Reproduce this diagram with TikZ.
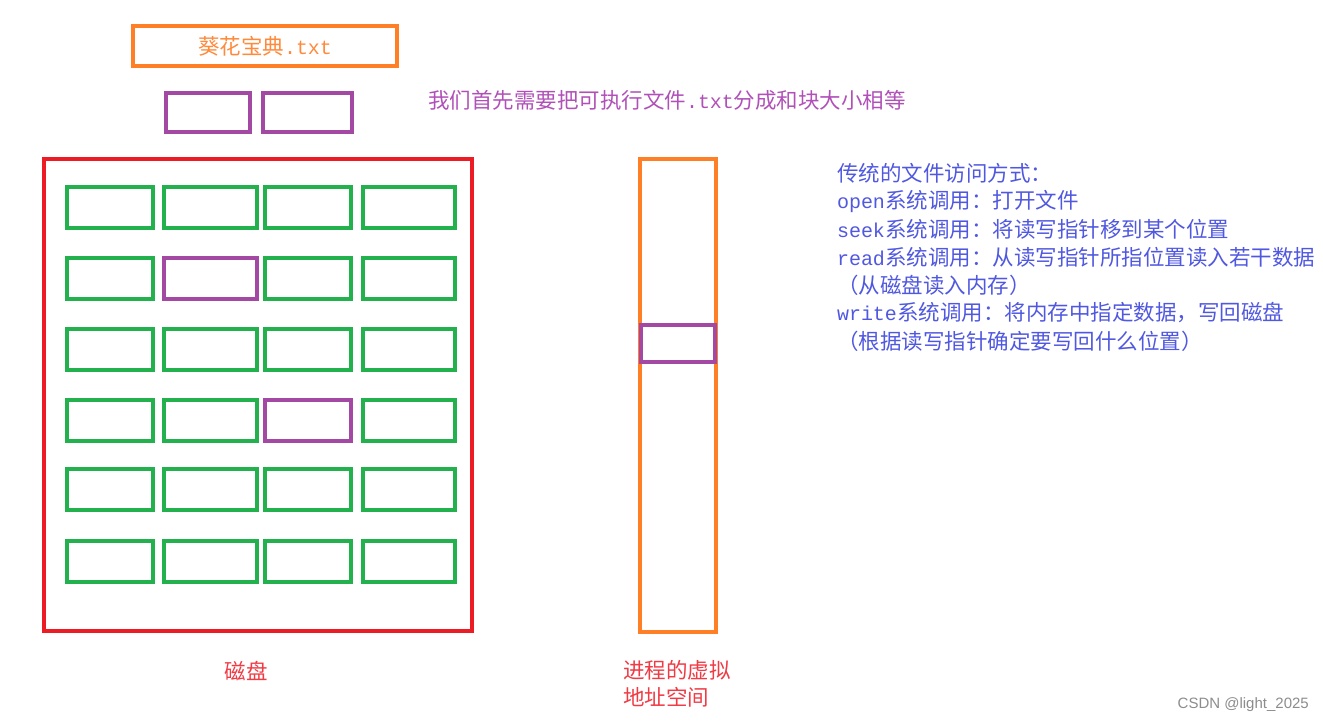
\documentclass[tikz,border=0pt]{standalone}
\usepackage{fontspec}
\setmainfont{Noto Sans CJK SC}
\newfontfamily\lm{Liberation Mono}[Scale=0.93]
\newfontfamily\wm{Liberation Sans}
\definecolor{cOrange}{HTML}{FF7F27}
\definecolor{cPurple}{HTML}{A349A4}
\definecolor{cGreen}{HTML}{22B14C}
\definecolor{cRed}{HTML}{ED1C24}
\definecolor{tOrange}{HTML}{FF8A3C}
\definecolor{tPurple}{HTML}{B050B8}
\definecolor{tBlue}{HTML}{5058E0}
\definecolor{tRed}{HTML}{F03A44}
\tikzset{
  box/.style={draw, line width=4pt, inner sep=0pt, outer sep=0pt, anchor=center},
  gbox/.style={box, draw=cGreen, minimum height=41pt},
  pbox/.style={box, draw=cPurple},
  lbl/.style={inner sep=0pt, outer sep=0pt, font=\fontsize{21.5}{28}\selectfont}
}
\begin{document}
\begin{tikzpicture}[x=1pt,y=-1pt]
\useasboundingbox (0,0) rectangle (1323,724);
% top file box
\node[box, draw=cOrange, minimum width=264pt, minimum height=40pt] (file) at (265,46) {};
\node[lbl, text=tOrange] (filet) at (265,46) {葵花宝典{\lm.txt}};
% split blocks
\node[pbox, minimum width=84pt, minimum height=39pt] (s1) at (208,112.5) {};
\node[pbox, minimum width=89pt, minimum height=39pt] (s2) at (307.5,112.5) {};
\node[lbl, text=tPurple, anchor=west] (note) at (428,100) {我们首先需要把可执行文件{\lm.txt}分成和块大小相等};
% disk
\node[box, draw=cRed, minimum width=428pt, minimum height=472pt] (disk) at (258,395) {};
\foreach \r/\y in {1/207,2/278.5,3/349.5,4/420.5,5/489.5,6/561}{
  \node[gbox, minimum width=86pt] (b\r a) at (110,\y) {};
  \node[gbox, minimum width=93pt] (b\r b) at (210.5,\y) {};
  \node[gbox, minimum width=86pt] (b\r c) at (308,\y) {};
  \node[gbox, minimum width=92pt] (b\r d) at (409,\y) {};
}
\node[pbox, minimum width=93pt, minimum height=41pt] (p1) at (210.5,278.5) {};
\node[pbox, minimum width=86pt, minimum height=41pt] (p2) at (308,420.5) {};
\node[lbl, text=tRed] (diskl) at (246,671) {磁盘};
% virtual address space
\node[box, draw=cOrange, minimum width=76pt, minimum height=473pt] (vas) at (678,395.5) {};
\node[pbox, minimum width=74pt, minimum height=37pt] (vp) at (678,343.5) {};
\node[lbl, text=tRed, anchor=west] (vl1) at (623,670) {进程的虚拟};
\node[lbl, text=tRed, anchor=west] (vl2) at (623,697) {地址空间};
% explanation
\node[lbl, text=tBlue, anchor=west] (e1) at (837,173) {传统的文件访问方式：};
\node[lbl, text=tBlue, anchor=west] (e2) at (837,201) {{\lm open}系统调用：打开文件};
\node[lbl, text=tBlue, anchor=west] (e3) at (837,229) {{\lm seek}系统调用：将读写指针移到某个位置};
\node[lbl, text=tBlue, anchor=west] (e4) at (837,257) {{\lm read}系统调用：从读写指针所指位置读入若干数据};
\node[lbl, text=tBlue, anchor=west] (e5) at (837,285) {（从磁盘读入内存）};
\node[lbl, text=tBlue, anchor=west] (e6) at (837,313) {{\lm write}系统调用：将内存中指定数据，写回磁盘};
\node[lbl, text=tBlue, anchor=west] (e7) at (837,341) {（根据读写指针确定要写回什么位置）};
% watermark
\node[inner sep=0pt, text=black!45, font=\wm\fontsize{15}{18}\selectfont, anchor=east] (wm) at (1309,705) {CSDN @light\_2025};
\end{tikzpicture}
\end{document}
